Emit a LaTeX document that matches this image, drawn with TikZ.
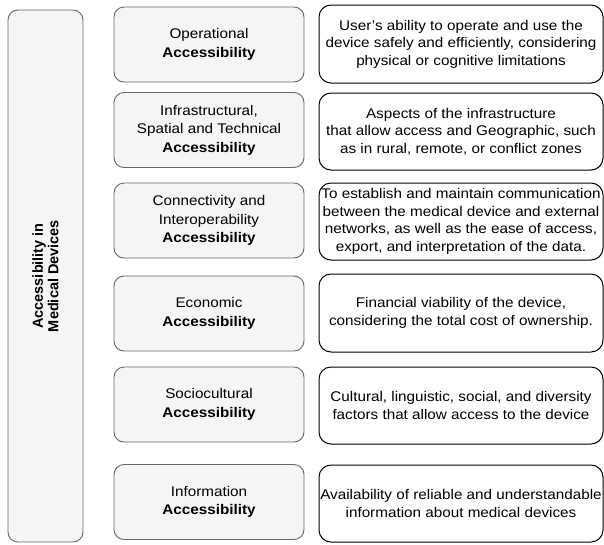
\documentclass[tikz,border=0pt]{standalone}
\usepackage{fontspec}
\setmainfont[FakeStretch=1.09]{Liberation Sans}
\newfontfamily\rotfont{Liberation Sans}
\definecolor{boxfill}{HTML}{F5F5F5}
\definecolor{boxline}{HTML}{666666}
\tikzset{
  catbox/.style={draw=boxline, fill=boxfill, line width=0.9pt, rounded corners=10pt,
    minimum width=190pt, minimum height=75pt, inner sep=0pt, align=center,
    font=\fontsize{14}{18.5}\selectfont},
  descbox/.style={draw=black, fill=white, line width=1pt, rounded corners=12pt,
    minimum width=284pt, minimum height=77pt, inner sep=0pt, align=center,
    font=\fontsize{14}{17.5}\selectfont},
  mainbox/.style={draw=boxline, fill=boxfill, line width=0.9pt, rounded corners=10pt,
    minimum width=75pt, minimum height=532pt, inner sep=0pt},
}
\begin{document}
\begin{tikzpicture}[x=1pt,y=-1pt]
\useasboundingbox (0,0) rectangle (604,544);
\node[mainbox] (main) at (45.5,276) {};
\node[rotate=90, align=center, font=\rotfont\fontsize{14.5}{15.5}\selectfont\bfseries] (maintext) at (main.center) {Accessibility in\\Medical Devices};

\node[catbox] (c1) at (209,44.5) {Operational\\\textbf{Accessibility}};
\node[catbox] (c2) at (209,130) {Infrastructural,\\Spatial and Technical\\\textbf{Accessibility}};
\node[catbox] (c3) at (209,220.5) {Connectivity and\\Interoperability\\\textbf{Accessibility}};
\node[catbox] (c4) at (209,313.5) {Economic\\\textbf{Accessibility}};
\node[catbox] (c5) at (209,404.5) {Sociocultural\\\textbf{Accessibility}};
\node[catbox] (c6) at (209,502) {Information\\\textbf{Accessibility}};

\node[descbox, minimum height=78pt] (d1) at (461,44) {User{\char"0027}s ability to operate and use the\\device safely and efficiently, considering\\physical or cognitive limitations};
\node[descbox] (d2) at (461,131.5) {Aspects of the infrastructure\\that allow access and Geographic, such\\as in rural, remote, or conflict zones};
\node[descbox] (d3) at (461,221.5) {To establish and maintain communication\\between the medical device and external\\networks, as well as the ease of access,\\export, and interpretation of the data.};
\node[descbox, minimum height=78pt] (d4) at (461,313) {Financial viability of the device,\\considering the total cost of ownership.};
\node[descbox] (d5) at (461,405.5) {Cultural, linguistic, social, and diversity\\factors that allow access to the device};
\node[descbox] (d6) at (461,503.5) {Availability of reliable and understandable\\information about medical devices};
\end{tikzpicture}
\end{document}
